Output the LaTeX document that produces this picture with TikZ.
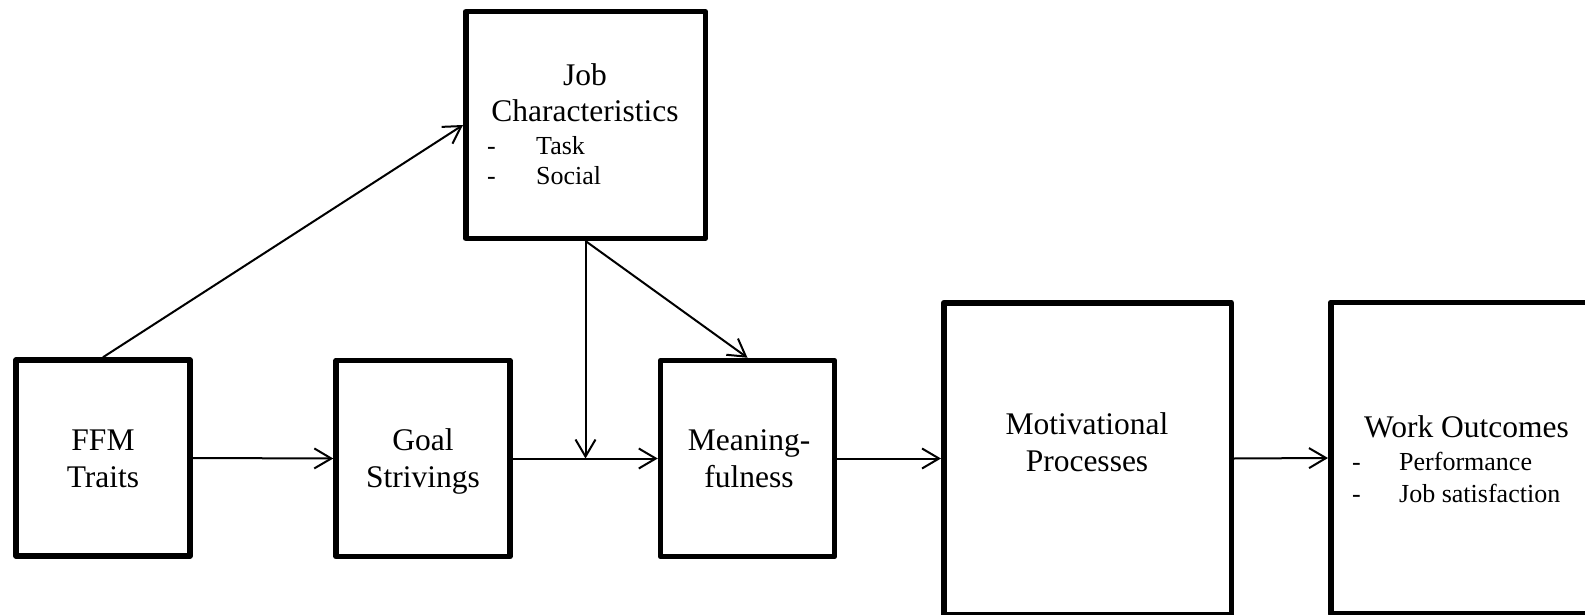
\documentclass[tikz,border=0pt]{standalone}
\usepackage{fontspec}
\setmainfont{Liberation Serif}
\usetikzlibrary{arrows.meta}
\begin{document}
\begin{tikzpicture}[x=1pt,y=-1pt,
  box/.style={draw, line width=5.5pt, line join=round, inner sep=0pt},
  unit/.style={box, minimum width=174pt, minimum height=196pt},
  wide/.style={box, minimum width=287.5pt, minimum height=311.5pt},
  big/.style={font=\fontsize{31.5}{37}\selectfont, inner sep=0pt, anchor=base},
  small/.style={font=\fontsize{26}{31}\selectfont, inner sep=0pt, anchor=base west},
  link/.style={line width=2pt, -{Straight Barb[length=17pt,width=20pt]}}
]
\useasboundingbox (0,0) rectangle (1585,615);
\begin{scope}
\clip (0,0) rectangle (1585,615);

% boxes
\node[unit] (ffm)   at (103,458) {};
\node[unit] (goal)  at (423,458.5) {};
\node[unit] (mean)  at (747.5,458.5) {};
\node[wide] (motiv) at (1087.5,458.5) {};
\node[wide] (work)  at (1474.5,458) {};
\node[box, minimum width=239.5pt, minimum height=226.5pt] (jobc) at (585.5,125) {};

% labels
\node[big] (ffmA) at (103,450) {FFM};
\node[big] (ffmB) at (103,487) {Traits};
\node[big] (goalA) at (423,450) {Goal};
\node[big] (goalB) at (423,487) {Strivings};
\node[big] (meanA) at (749,450) {Meaning-};
\node[big] (meanB) at (749,487) {fulness};
\node[big] (motA) at (1087,434) {Motivational};
\node[big] (motB) at (1087,471) {Processes};
\node[big] (jobA) at (585,86) {Job};
\node[big] (jobB) at (585,122) {Characteristics};
\node[small] (jobD1) at (487,154) {-};
\node[small] (jobT1) at (536,154) {Task};
\node[small] (jobD2) at (487,185) {-};
\node[small] (jobT2) at (536,185) {Social};
\node[big] (workA) at (1466.5,437) {Work Outcomes};
\node[small] (workD1) at (1352,470) {-};
\node[small] (workT1) at (1399,470) {Performance};
\node[small] (workD2) at (1352,502) {-};
\node[small] (workT2) at (1399,502) {Job satisfaction};

% connectors
\coordinate (meet) at (jobc.south |- goal.east);
\draw[link] (ffm.north) -- (jobc.west);
\draw[link] (ffm.east) -- (goal.west);
\draw[link] (goal.east) -- (mean.west);
\draw[link] (jobc.south) -- (meet);
\draw[link] (jobc.south) -- (mean.north);
\draw[link] (mean.east) -- (motiv.west);
\draw[link] (motiv.east) -- (work.west);
\end{scope}
\end{tikzpicture}
\end{document}
